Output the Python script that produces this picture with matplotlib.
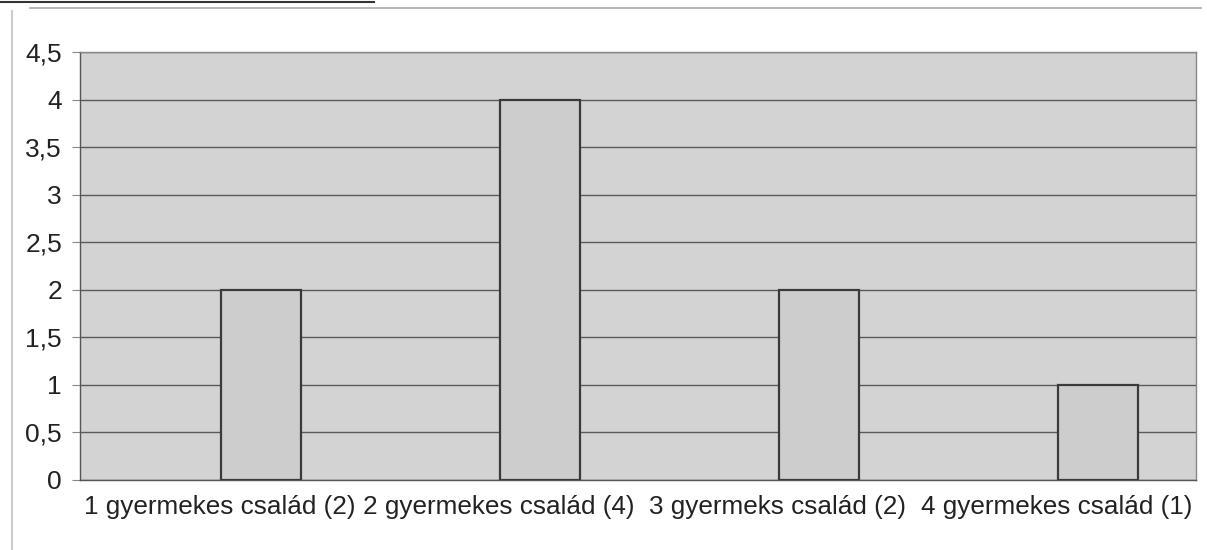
import matplotlib.pyplot as plt
from matplotlib.lines import Line2D
import numpy as np

# data
categories = ['1 gyermekes család (2)', '2 gyermekes család (4)',
              '3 gyermeks család (2)', '4 gyermekes család (1)']
values = [2, 4, 2, 1]
yticks = [0, 0.5, 1, 1.5, 2, 2.5, 3, 3.5, 4, 4.5]

plt.rcParams['font.family'] = ['Liberation Sans', 'DejaVu Sans']

fig = plt.figure(figsize=(12.07, 5.5), dpi=100)
ax = fig.add_axes([0.0663, 0.1273, 0.9246, 0.7782])

ax.set_facecolor('#d3d3d3')
x = np.arange(len(categories))
ax.bar(x + 0.15, values, width=0.287, color='#cdcdcd', edgecolor='#3a3a3a',
       linewidth=1.6, zorder=3)

ax.set_xlim(-0.5, len(categories) - 0.5)
ax.set_ylim(0, 4.5)
ax.set_yticks(yticks)
ax.set_yticklabels([str(t).replace('.', ',').replace(',0', '') for t in yticks])
ax.yaxis.grid(True, color='#5a5a5a', linewidth=1.0, zorder=1)
ax.set_xticks(x)
ax.set_xticklabels(categories)
ax.tick_params(axis='y', labelsize=19, length=6, color='#888888', pad=7,
               labelcolor='#222222')
ax.tick_params(axis='x', labelsize=18.8, length=0, pad=11, labelcolor='#222222')

for s in ['top', 'right']:
    ax.spines[s].set_color('#888888')
    ax.spines[s].set_linewidth(1.0)
for s in ['left', 'bottom']:
    ax.spines[s].set_color('#555555')
    ax.spines[s].set_linewidth(1.0)

# outer chart frame
fig.add_artist(Line2D([0.025, 0.995], [0.985, 0.985], color='#aaaaaa', lw=1.2))
fig.add_artist(Line2D([0.0, 0.31], [0.996, 0.996], color='#333333', lw=1.5))
fig.add_artist(Line2D([0.01, 0.01], [0.0, 0.98], color='#cccccc', lw=1.5))

fig.savefig('out.png', dpi=100)
